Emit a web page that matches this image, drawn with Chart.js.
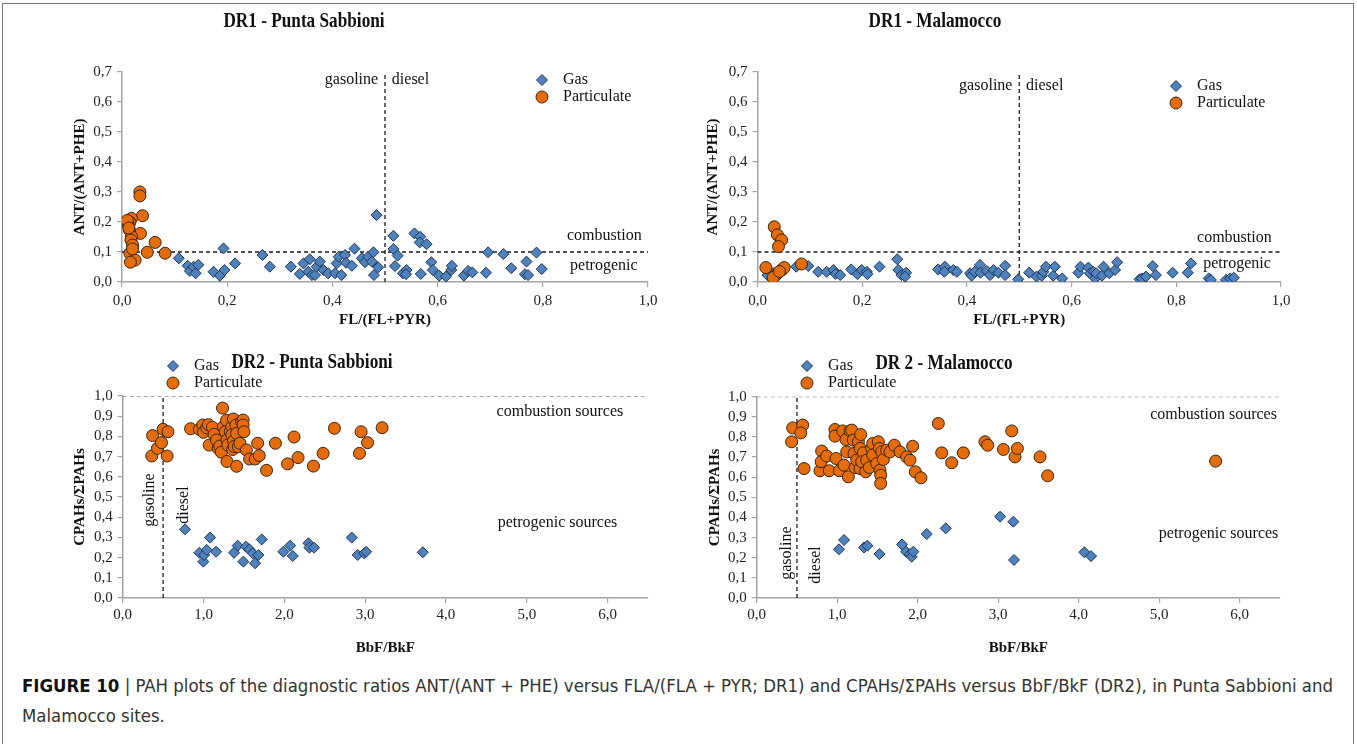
<!DOCTYPE html>
<html>
<head>
<meta charset="utf-8">
<script src="https://cdn.jsdelivr.net/npm/chart.js@4.4.1/dist/chart.umd.min.js"></script>
<style>
  body{margin:0;background:#fff;}
  #page{position:relative;width:1357px;height:744px;overflow:hidden;background:#fff;}
  #frame{position:absolute;left:2px;top:3px;width:1350px;height:800px;border:1.5px solid #777;}
  canvas{position:absolute;}
  .cap{position:absolute;left:22px;font-family:"Liberation Sans Narrow","DejaVu Sans Condensed","Liberation Sans",sans-serif;
       font-size:18px;line-height:22px;color:#333;white-space:nowrap;transform-origin:0 50%;}
  .cap b{color:#111;}
</style>
</head>
<body>
<div id="page">
  <div id="frame"></div>
  <canvas id="c1"></canvas>
  <canvas id="c2"></canvas>
  <canvas id="c3"></canvas>
  <canvas id="c4"></canvas>
  <div class="cap" id="cap1" style="top:675px"><b>FIGURE 10</b> | PAH plots of the diagnostic ratios ANT/(ANT + PHE) versus FLA/(FLA + PYR; DR1) and CPAHs/ΣPAHs versus BbF/BkF (DR2), in Punta Sabbioni and</div>
  <div class="cap" id="cap2" style="top:705px">Malamocco sites.</div>
</div>
<script>
// --- DR1 Punta Sabbioni
const sabDr1GasX = [0.108,0.125,0.129,0.136,0.140,0.145,0.174,0.186,0.193,0.195,0.215,0.267,0.281,0.321,0.338,0.345,0.357,0.354,0.361,0.367,
  0.370,0.376,0.383,0.392,0.405,0.408,0.412,0.417,0.424,0.426,0.437,0.442,0.456,0.462,0.468,0.478,0.475,0.479,0.484,0.487,
  0.516,0.516,0.524,0.519,0.534,0.541,0.540,0.556,0.567,0.566,0.579,0.568,0.588,0.591,0.603,0.616,0.626,0.627,0.650,0.658,
  0.666,0.692,0.696,0.725,0.740,0.769,0.766,0.772,0.788,0.798];
const sabDr1GasY = [0.079,0.054,0.037,0.051,0.029,0.057,0.034,0.021,0.112,0.040,0.062,0.090,0.051,0.051,0.027,0.062,0.076,0.034,0.023,0.023,
  0.051,0.068,0.040,0.029,0.029,0.062,0.084,0.023,0.090,0.064,0.054,0.111,0.079,0.066,0.084,0.099,0.068,0.023,0.223,0.049,
  0.154,0.110,0.088,0.053,0.029,0.040,0.026,0.162,0.151,0.132,0.126,0.027,0.066,0.040,0.021,0.018,0.040,0.054,0.021,0.037,
  0.032,0.031,0.099,0.093,0.046,0.068,0.026,0.023,0.098,0.043];
const sabDr1PartX = [0.034,0.034,0.039,0.035,0.018,0.015,0.012,0.014,0.018,0.017,0.020,0.015,0.025,0.016,0.048,0.063,0.082,0.010,0.013,0.020];
const sabDr1PartY = [0.300,0.287,0.221,0.162,0.212,0.199,0.190,0.173,0.151,0.140,0.123,0.096,0.073,0.066,0.099,0.132,0.096,0.205,0.180,0.110];

// --- DR1 Malamocco
const malDr1GasX = [0.019,0.074,0.097,0.116,0.132,0.145,0.149,0.158,0.179,0.191,0.199,0.209,0.210,0.233,0.267,0.269,0.275,0.284,0.282,0.345,
  0.358,0.357,0.374,0.381,0.406,0.409,0.415,0.425,0.426,0.438,0.444,0.451,0.460,0.473,0.473,0.498,0.030,
  0.519,0.533,0.543,0.546,0.551,0.565,0.568,0.582,0.613,0.617,0.632,0.635,0.642,0.645,0.647,0.658,0.661,0.672,0.683,0.687,
  0.730,0.734,0.742,0.755,0.761,0.793,0.822,0.828,0.862,0.866,0.895,0.903,0.910];
const malDr1GasY = [0.023,0.051,0.053,0.034,0.034,0.040,0.027,0.023,0.042,0.026,0.040,0.034,0.026,0.051,0.076,0.040,0.023,0.031,0.018,0.042,
  0.051,0.034,0.040,0.034,0.029,0.021,0.034,0.057,0.031,0.037,0.023,0.040,0.031,0.054,0.023,0.009,0.030,
  0.031,0.018,0.021,0.034,0.051,0.021,0.051,0.012,0.031,0.051,0.048,0.029,0.034,0.012,0.029,0.021,0.051,0.029,0.040,0.066,
  0.009,0.012,0.018,0.053,0.023,0.031,0.031,0.062,0.012,0.007,0.007,0.012,0.014];
const malDr1PartX = [0.016,0.032,0.038,0.046,0.040,0.035,0.030,0.046,0.051,0.084,0.042];
const malDr1PartY = [0.048,0.184,0.157,0.140,0.118,0.023,0.015,0.040,0.048,0.060,0.035];

// --- DR2 Punta Sabbioni
const sabDr2GasX = [0.771,0.949,0.998,1.007,1.040,1.081,1.155,1.378,1.423,1.493,1.526,1.568,1.609,1.638,1.679,1.720,1.988,2.071,2.104,2.298,
  2.310,2.368,2.834,2.908,2.987,3.012,3.713];
const sabDr2GasY = [0.340,0.224,0.180,0.213,0.238,0.299,0.229,0.224,0.259,0.180,0.254,0.241,0.221,0.172,0.213,0.290,0.229,0.259,0.208,0.271,
  0.249,0.249,0.299,0.213,0.221,0.229,0.226];
const sabDr2PartX = [0.36,0.37,0.43,0.48,0.50,0.55,0.56,0.84,0.95,0.99,1.00,1.04,1.06,1.07,1.11,1.13,1.16,1.18,1.20,1.22,
  1.235,1.245,1.27,1.285,1.29,1.29,1.30,1.33,1.35,1.35,1.36,1.37,1.37,1.38,1.40,1.41,1.41,1.43,1.45,1.47,
  1.49,1.49,1.50,1.53,1.57,1.64,1.67,1.69,1.78,1.89,2.04,2.12,2.17,2.36,2.48,2.62,2.93,2.95,3.03,3.21];
const sabDr2PartY = [0.703,0.804,0.741,0.769,0.835,0.703,0.823,0.838,0.835,0.856,0.820,0.842,0.858,0.757,0.845,0.810,0.782,0.741,0.752,0.722,
  0.940,0.848,0.823,0.880,0.782,0.676,0.757,0.823,0.848,0.807,0.735,0.886,0.777,0.750,0.856,0.815,0.652,0.749,0.766,0.873,
  0.881,0.856,0.823,0.733,0.688,0.688,0.766,0.705,0.632,0.766,0.664,0.797,0.695,0.653,0.716,0.840,0.716,0.823,0.769,0.843];

// --- DR2 Malamocco
const malDr2GasX = [1.022,1.085,1.333,1.375,1.524,1.805,1.855,1.904,1.925,1.946,2.112,2.348,3.023,3.188,3.196,4.070,4.153];
const malDr2GasY = [0.242,0.288,0.251,0.260,0.218,0.266,0.230,0.218,0.205,0.230,0.318,0.346,0.404,0.379,0.189,0.227,0.208];
const malDr2PartX = [0.434,0.447,0.571,0.547,0.588,0.786,0.807,0.800,0.869,0.902,0.972,0.972,0.985,1.026,1.068,1.084,1.109,1.118,1.159,1.138,
  1.180,1.200,1.209,1.221,1.263,1.292,1.242,1.284,1.284,1.325,1.304,1.354,1.366,1.399,1.428,1.441,1.441,1.491,1.511,1.524,
  1.532,1.540,1.540,1.553,1.573,1.615,1.656,1.710,1.780,1.863,1.904,1.937,1.970,2.040,2.256,2.298,2.422,2.567,2.836,2.869,
  3.064,3.168,3.209,3.238,3.519,3.614,5.700];
const malDr2PartY = [0.776,0.845,0.859,0.820,0.643,0.632,0.730,0.677,0.705,0.632,0.837,0.804,0.693,0.632,0.830,0.660,0.787,0.726,0.830,0.602,
  0.834,0.784,0.718,0.648,0.776,0.812,0.685,0.743,0.643,0.721,0.677,0.627,0.685,0.648,0.743,0.768,0.710,0.668,0.776,0.743,
  0.635,0.610,0.569,0.726,0.688,0.734,0.726,0.759,0.726,0.701,0.685,0.754,0.627,0.597,0.867,0.721,0.672,0.721,0.776,0.759,
  0.738,0.830,0.701,0.743,0.701,0.607,0.680];

// thresholds
const dr1Fuel = 0.5, dr1Comb = 0.1;
const dr2Fuel = 0.5, dr2Comb = 1.0;

const serif = "'Liberation Serif','Times New Roman',serif";
const GAS_FILL = '#4f81bd', GAS_EDGE = '#1f3556';
const PART_FILL = '#e46c0a', PART_EDGE = '#3b2410';
const AXIS = '#a3a3a3';

Chart.defaults.font.family = serif;
Chart.defaults.color = '#222';

const fmt = v => v.toFixed(1).replace('.', ',');
const pts = (xs, ys) => xs.map((x, i) => ({x, y: ys[i]}));

// decorations: title, legend, text notes
function makeDecor(p){
  return {
    id: 'decor',
    afterDraw(chart){
      const ctx = chart.ctx, sx = chart.scales.x, sy = chart.scales.y;
      const L = p.box[0], T = p.box[1];
      ctx.save();
      ctx.fillStyle = '#111';
      ctx.textBaseline = 'middle';
      ctx.textAlign = 'center';
      // title, condensed like the original
      ctx.save();
      ctx.font = `bold 21px ${serif}`;
      ctx.translate(p.titleX - L, p.titleY - T);
      ctx.scale(0.82, 1);
      ctx.fillText(p.title, 0, 0);
      ctx.restore();

      // legend from the two point series
      ctx.font = `16px ${serif}`;
      ctx.textAlign = 'left';
      chart.data.datasets.slice(0, 2).forEach((ds, i) => {
        const mx = p.leg.x - L, my = p.leg.y[i] - T;
        ctx.fillStyle = ds.backgroundColor;
        ctx.strokeStyle = ds.borderColor;
        ctx.lineWidth = 1;
        Chart.helpers.drawPoint(ctx, {pointStyle: ds.pointStyle, radius: ds.pointRadius, rotation: 0, borderWidth: 1}, mx, my);
        ctx.fillStyle = '#111';
        ctx.fillText(ds.label, mx + 21, my);
      });

      // notes
      p.notes.forEach(n => {
        const px = sx.getPixelForValue(n.x), py = sy.getPixelForValue(n.y);
        ctx.save();
        ctx.translate(px, py);
        if (n.rot) ctx.rotate(-Math.PI / 2);
        ctx.textAlign = n.align || 'center';
        ctx.fillStyle = '#111';
        ctx.font = `16px ${serif}`;
        ctx.fillText(n.text, 0, 0);
        ctx.restore();
      });
      ctx.restore();
    }
  };
}

function makePanel(p){
  const cv = document.getElementById(p.id);
  const [L, T, W, H] = p.box;
  cv.style.left = L + 'px'; cv.style.top = T + 'px';
  cv.width = W; cv.height = H;
  const aL = p.area[0] - L, aR = p.area[1] - L, aT = p.area[2] - T, aB = p.area[3] - T;

  const datasets = [
    {label: 'Gas', data: pts(p.gasX, p.gasY), pointStyle: 'rectRot', pointRadius: 5.5,
     backgroundColor: GAS_FILL, borderColor: GAS_EDGE, borderWidth: 1, order: 2},
    {label: 'Particulate', data: pts(p.partX, p.partY), pointStyle: 'circle', pointRadius: 6,
     backgroundColor: PART_FILL, borderColor: PART_EDGE, borderWidth: 1, order: 1},
    {label: '', data: [{x: p.fuel, y: 0}, {x: p.fuel, y: p.yMax}], showLine: true, pointRadius: 0,
     borderColor: '#1a1a1a', borderWidth: 1.3, borderDash: [4, 3], order: 3},
    {label: '', data: [{x: 0, y: p.comb}, {x: p.xMax, y: p.comb}], showLine: true, pointRadius: 0,
     borderColor: p.combColor, borderWidth: p.combWidth, borderDash: [4, 3], order: 3}
  ];

  const gridOpt = {display: true, drawOnChartArea: false, drawTicks: true, tickLength: 5, color: AXIS, lineWidth: 1.2};
  const borderOpt = {display: true, color: AXIS, width: 1.5};

  new Chart(cv, {
    type: 'scatter',
    data: {datasets},
    options: {
      responsive: false, animation: false, events: [],
      layout: {padding: {left: 0, right: W - aR, top: aT, bottom: H - aB - p.xH}},
      plugins: {legend: {display: false}, tooltip: {enabled: false}},
      scales: {
        x: {
          type: 'linear', min: 0, max: p.xMax,
          afterFit: s => { s.height = p.xH; },
          grid: gridOpt, border: borderOpt,
          ticks: {stepSize: p.xStep, includeBounds: false, autoSkip: false, callback: fmt, color: '#222',
                  padding: p.xTickPad, maxRotation: 0, font: {family: serif, size: 15}},
          title: {display: true, text: p.xTitle, color: '#111', padding: {top: 0, bottom: p.xTitlePad},
                  font: {family: serif, size: 15, weight: 'bold'}}
        },
        y: {
          type: 'linear', min: 0, max: p.yMax,
          afterFit: s => { s.width = aL; },
          grid: gridOpt, border: borderOpt,
          ticks: {stepSize: 0.1, includeBounds: false, autoSkip: false, callback: fmt, color: '#222', padding: 5,
                  font: {family: serif, size: 15}},
          title: {display: true, text: p.yTitle, color: '#111', padding: {top: p.yTitlePad, bottom: 0},
                  font: {family: serif, size: 15, weight: 'bold'}}
        }
      }
    },
    plugins: [makeDecor(p)]
  });
}

const dr1Notes = (gy, cx, cy, px, py) => [
  {text: 'gasoline', x: 0.487, y: gy, align: 'right'},
  {text: 'diesel', x: 0.513, y: gy, align: 'left'},
  {text: 'combustion', x: cx, y: cy},
  {text: 'petrogenic', x: px, y: py}
];

makePanel({
  id: 'c1', box: [0, 0, 680, 345], area: [122, 648, 72, 282],
  gasX: sabDr1GasX, gasY: sabDr1GasY, partX: sabDr1PartX, partY: sabDr1PartY,
  xMax: 1, xStep: 0.2, yMax: 0.7, fuel: dr1Fuel, comb: dr1Comb, combColor: '#1a1a1a', combWidth: 1.3,
  xH: 50, xTickPad: 5, xTitlePad: 3, yTitlePad: 71,
  xTitle: 'FL/(FL+PYR)', yTitle: 'ANT/(ANT+PHE)',
  title: 'DR1 - Punta Sabbioni', titleX: 304, titleY: 22,
  leg: {x: 542, y: [80, 97]},
  notes: dr1Notes(0.673, 0.917, 0.153, 0.916, 0.053)
});

makePanel({
  id: 'c2', box: [680, 0, 677, 345], area: [757.5, 1281, 72, 282],
  gasX: malDr1GasX, gasY: malDr1GasY, partX: malDr1PartX, partY: malDr1PartY,
  xMax: 1, xStep: 0.2, yMax: 0.7, fuel: dr1Fuel, comb: dr1Comb, combColor: '#1a1a1a', combWidth: 1.3,
  xH: 50, xTickPad: 5, xTitlePad: 3, yTitlePad: 24,
  xTitle: 'FL/(FL+PYR)', yTitle: 'ANT/(ANT+PHE)',
  title: 'DR1 - Malamocco', titleX: 935, titleY: 22,
  leg: {x: 1176, y: [86, 103]},
  notes: dr1Notes(0.653, 0.911, 0.147, 0.916, 0.06)
});

makePanel({
  id: 'c3', box: [0, 345, 680, 325], area: [122.7, 648, 396, 598],
  gasX: sabDr2GasX, gasY: sabDr2GasY, partX: sabDr2PartX, partY: sabDr2PartY,
  xMax: 6.5, xStep: 1, yMax: 1, fuel: dr2Fuel, comb: dr2Comb, combColor: '#555', combWidth: 1,
  xH: 62, xTickPad: 3, xTitlePad: 3, yTitlePad: 71,
  xTitle: 'BbF/BkF', yTitle: 'CPAHs/ΣPAHs',
  title: 'DR2 - Punta Sabbioni', titleX: 312, titleY: 363,
  leg: {x: 173, y: [366, 383]},
  notes: [
    {text: 'gasoline', x: 0.33, y: 0.485, rot: true},
    {text: 'diesel', x: 0.76, y: 0.46, rot: true},
    {text: 'combustion sources', x: 5.41, y: 0.92},
    {text: 'petrogenic sources', x: 5.38, y: 0.37}
  ]
});

makePanel({
  id: 'c4', box: [680, 345, 677, 325], area: [756.7, 1280, 396.7, 598],
  gasX: malDr2GasX, gasY: malDr2GasY, partX: malDr2PartX, partY: malDr2PartY,
  xMax: 6.5, xStep: 1, yMax: 1, fuel: dr2Fuel, comb: dr2Comb, combColor: '#555', combWidth: 1,
  xH: 62, xTickPad: 3, xTitlePad: 3, yTitlePad: 26,
  xTitle: 'BbF/BkF', yTitle: 'CPAHs/ΣPAHs',
  title: 'DR 2 - Malamocco', titleX: 944, titleY: 364,
  leg: {x: 807, y: [366, 383]},
  notes: [
    {text: 'gasoline', x: 0.376, y: 0.223, rot: true},
    {text: 'diesel', x: 0.736, y: 0.164, rot: true},
    {text: 'combustion sources', x: 5.675, y: 0.91},
    {text: 'petrogenic sources', x: 5.737, y: 0.32}
  ]
});

// stretch caption to the reference line width
const cap1 = document.getElementById('cap1'), cap2 = document.getElementById('cap2');
const k = 1311 / cap1.getBoundingClientRect().width;
cap1.style.transform = `scaleX(${k})`;
cap2.style.transform = `scaleX(${k})`;
</script>
</body>
</html>
